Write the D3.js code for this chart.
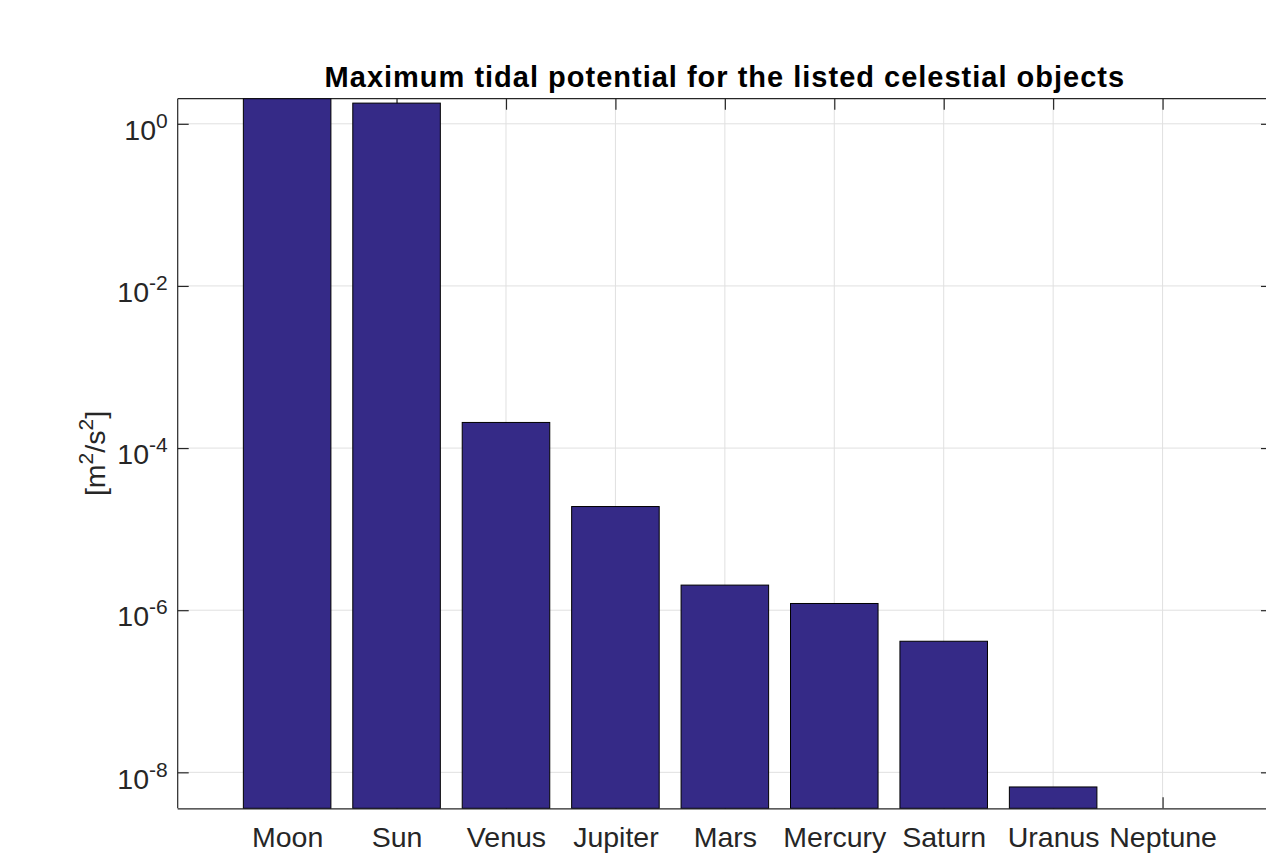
<!DOCTYPE html>
<html>
<head>
<meta charset="utf-8">
<script src="https://cdn.jsdelivr.net/npm/d3@7"></script>
<style>
  html, body { margin: 0; padding: 0; background: #fff; }
  svg { display: block; overflow: hidden; }
  text { font-family: "Liberation Sans", Arial, Helvetica, sans-serif; }
</style>
</head>
<body>
<svg id="chart" width="1266" height="855"></svg>
<script>
// Celestial bodies and their maximum tidal potential [m^2/s^2]
const bodies = ["Moon", "Sun", "Venus", "Jupiter", "Mars", "Mercury", "Saturn", "Uranus", "Neptune"];
const potential = [2.1, 1.80, 2.07e-4, 1.90e-5, 2.04e-6, 1.21e-6, 4.14e-7, 6.6e-9, 2.5e-9];
const yTicks = [1e-8, 1e-6, 1e-4, 1e-2, 1e0];
const yLimits = [3.6e-9, 2.04];
const titleText = "Maximum tidal potential for the listed celestial objects";

const plot = { left: 177.7, top: 98.7, right: 1272, bottom: 808.3 };
const axisColor = "#262626";
const gridColor = "#e0e0e0";
const barColor = "#352a87";
const tickLen = 11;
const fontSize = 28.5;
const supSize = 21;
const supRise = 12;

const svg = d3.select("#chart");

// x: categories at positions 1..n inside [0, n+1]
const x = d3.scaleLinear().domain([0, bodies.length + 1]).range([plot.left, plot.right]);
const y = d3.scaleLog().domain(yLimits).range([plot.bottom, plot.top]).clamp(true);
const barWidth = x(0.8) - x(0);

svg.append("defs").append("clipPath").attr("id", "plot-clip")
  .append("rect")
  .attr("x", plot.left).attr("y", plot.top - 0.5)
  .attr("width", plot.right - plot.left).attr("height", plot.bottom - plot.top + 1);

// grid lines
const grid = svg.append("g");
grid.selectAll("line.gy").data(yTicks).join("line")
  .attr("x1", plot.left).attr("x2", plot.right)
  .attr("y1", d => y(d)).attr("y2", d => y(d))
  .attr("stroke", gridColor).attr("stroke-width", 1);
grid.selectAll("line.gx").data(bodies).join("line")
  .attr("x1", (d, i) => x(i + 1)).attr("x2", (d, i) => x(i + 1))
  .attr("y1", plot.top).attr("y2", plot.bottom)
  .attr("stroke", gridColor).attr("stroke-width", 1);

// axes box with inward ticks
const xIdx = bodies.map((d, i) => i + 1);
const bottomAxis = d3.axisBottom(x).tickValues(xIdx).tickSize(-tickLen).tickPadding(18)
  .tickFormat(d => bodies[d - 1]);
const topAxis = d3.axisTop(x).tickValues(xIdx).tickSize(-tickLen).tickFormat("");
const leftAxis = d3.axisLeft(y).tickValues(yTicks).tickSize(-tickLen).tickFormat("");
const rightAxis = d3.axisRight(y).tickValues(yTicks).tickSize(-tickLen).tickFormat("");

function styleAxis(g) {
  g.select(".domain").attr("stroke", axisColor).attr("stroke-width", 1.2);
  g.selectAll(".tick line").attr("stroke", axisColor).attr("stroke-width", 1.2);
  g.selectAll(".tick text").attr("fill", axisColor).style("font-size", fontSize + "px");
}

const gBottom = svg.append("g").attr("transform", `translate(0,${plot.bottom})`).call(bottomAxis).call(styleAxis);
gBottom.select(".domain").attr("d", `M${plot.left},0.5H${plot.right}`);
gBottom.selectAll(".tick text").attr("dy", "0.71em");

const gTop = svg.append("g").attr("transform", `translate(0,${plot.top})`).call(topAxis).call(styleAxis);
gTop.select(".domain").attr("d", `M${plot.left},0H${plot.right}`);

const gLeft = svg.append("g").attr("transform", `translate(${plot.left},0)`).call(leftAxis).call(styleAxis);
gLeft.select(".domain").attr("d", `M0,${plot.top}V${plot.bottom}`);

const gRight = svg.append("g").attr("transform", `translate(${plot.right},0)`).call(rightAxis).call(styleAxis);
gRight.select(".domain").attr("d", `M0,${plot.top}V${plot.bottom}`);

// power-of-ten labels on the y axis
gLeft.selectAll(".tick").each(function (d) {
  const t = d3.select(this).select("text")
    .attr("x", -10).attr("dy", "0.55em").attr("text-anchor", "end")
    .attr("fill", axisColor)
    .style("font-size", fontSize + "px");
  t.text(null);
  t.append("tspan").text("10");
  t.append("tspan").attr("dy", -supRise).style("font-size", supSize + "px")
    .text(Math.round(Math.log10(d)));
});

// bars
svg.append("g").attr("clip-path", "url(#plot-clip)")
  .selectAll("rect").data(potential).join("rect")
  .attr("x", (d, i) => x(i + 1) - barWidth / 2)
  .attr("width", barWidth)
  .attr("y", d => y(d))
  .attr("height", d => y(yLimits[0]) - y(d))
  .attr("fill", barColor)
  .attr("stroke", "#000")
  .attr("stroke-width", 1);

// title
svg.append("text")
  .attr("x", (plot.left + plot.right) / 2).attr("y", 86.5)
  .attr("text-anchor", "middle")
  .style("font-size", "29px").style("font-weight", "bold")
  .style("letter-spacing", "1px")
  .attr("fill", "#000")
  .text(titleText);

// y axis label
const yl = svg.append("text")
  .attr("transform", `translate(105,${(plot.top + plot.bottom) / 2}) rotate(-90)`)
  .attr("text-anchor", "middle")
  .attr("fill", axisColor)
  .style("font-size", fontSize + "px");
yl.append("tspan").text("[m");
yl.append("tspan").attr("dy", -supRise).style("font-size", supSize + "px").text("2");
yl.append("tspan").attr("dy", supRise).text("/s");
yl.append("tspan").attr("dy", -supRise).style("font-size", supSize + "px").text("2");
yl.append("tspan").attr("dy", supRise).text("]");
</script>
</body>
</html>
